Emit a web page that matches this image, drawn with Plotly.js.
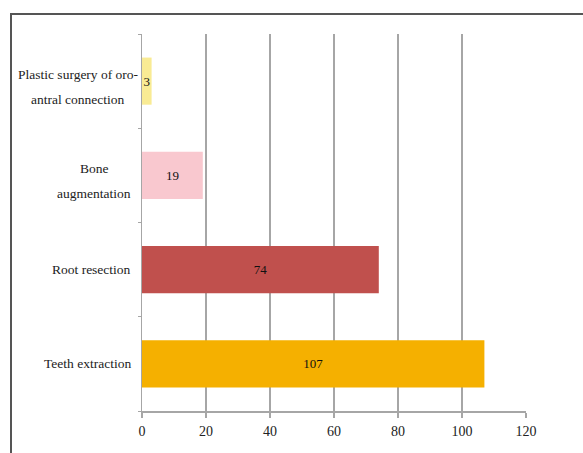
<!DOCTYPE html>
<html>
<head>
<meta charset="utf-8">
<script src="https://cdn.plot.ly/plotly-3.0.1.min.js"></script>
<style>
  html, body { margin:0; padding:0; background:#fff; }
  #wrap { position:relative; width:583px; height:453px; overflow:hidden; }
  #chart { position:absolute; left:0; top:0; width:583px; height:453px; }
  #frameTop { position:absolute; left:10px; top:13px; width:573px; height:2px; background:#555; }
  #frameLeft { position:absolute; left:10px; top:13px; width:2px; height:440px; background:#555; }
</style>
</head>
<body>
<div id="wrap">
  <div id="chart"></div>
  <div id="frameTop"></div>
  <div id="frameLeft"></div>
</div>
<script>
const categories = ["Teeth extraction", "Root resection", "Bone augmentation", "Plastic surgery of oro-antral connection"];
const categoryLines = [["Teeth extraction"], ["Root resection"], ["Bone", "augmentation"], ["Plastic surgery of oro-", "antral connection"]];
const values = [107, 74, 19, 3];
const barColors = ["#f5b000", "#c0504d", "#f9c8cf", "#f9eb94"];
const xTickVals = [0, 20, 40, 60, 80, 100, 120];

const serif = "Liberation Serif, Tinos, Times New Roman, Times, DejaVu Serif, serif";
const labelSize = 13.5;
const marginL = 142;

// measure text widths to centre multi-line labels as one block
const ctx = document.createElement("canvas").getContext("2d");
ctx.font = labelSize + "px " + serif;
const measure = s => ctx.measureText(s).width;

const trace = {
  type: "bar",
  orientation: "h",
  y: categories,
  x: values,
  marker: { color: barColors, line: { width: 0 } },
  text: values.map(String),
  textposition: "inside",
  insidetextanchor: "middle",
  constraintext: "none",
  textfont: { family: serif, size: 13, color: "#111" },
  hoverinfo: "none",
  cliponaxis: false
};

const gap = 11;          // preferred gap between label block and axis
const labelAreaLeft = 18; // labels may not start left of this (px from page left)
const lineOffsets2 = [7, -18];
const annotations = [];
categories.forEach((c, i) => {
  const lines = categoryLines[i];
  const blockW = Math.max(...lines.map(measure));
  let left = marginL - gap - blockW;
  if (left < labelAreaLeft) left = labelAreaLeft;
  const centerFromAxis = marginL - (left + blockW / 2);
  lines.forEach((ln, k) => {
    annotations.push({
      xref: "paper", yref: "y",
      x: 0, y: c,
      xanchor: "center", yanchor: "middle",
      xshift: -centerFromAxis,
      yshift: lines.length === 1 ? 0 : lineOffsets2[k],
      text: ln,
      showarrow: false,
      font: { family: serif, size: labelSize, color: "#222" }
    });
  });
});

const layout = {
  width: 583, height: 453,
  margin: { l: marginL, r: 57, t: 34, b: 42, pad: 0 },
  paper_bgcolor: "#fff",
  plot_bgcolor: "#fff",
  showlegend: false,
  bargap: 0.5,
  font: { family: serif },
  xaxis: {
    range: [0, 120],
    tickvals: xTickVals,
    ticktext: xTickVals.map(String),
    showgrid: true,
    gridcolor: "#a6a6a6",
    gridwidth: 1.5,
    zeroline: false,
    showline: true,
    linecolor: "#a6a6a6",
    linewidth: 1.5,
    ticks: "outside",
    ticklen: 5,
    tickcolor: "#a6a6a6",
    tickwidth: 1.5,
    ticklabelstandoff: 2,
    tickfont: { family: serif, size: 14, color: "#222" },
    fixedrange: true
  },
  yaxis: {
    type: "category",
    categoryorder: "array",
    categoryarray: categories,
    showticklabels: false,
    showgrid: false,
    zeroline: false,
    showline: true,
    linecolor: "#a6a6a6",
    linewidth: 1.5,
    ticks: "outside",
    tickson: "boundaries",
    ticklen: 3,
    tickcolor: "#a6a6a6",
    tickwidth: 1,
    fixedrange: true
  },
  annotations: annotations
};

Plotly.newPlot("chart", [trace], layout, { displayModeBar: false, staticPlot: true });
</script>
</body>
</html>
